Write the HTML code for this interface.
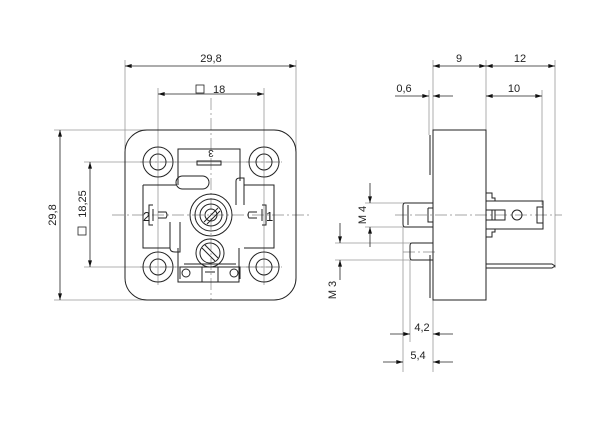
<!DOCTYPE html>
<html><head><meta charset="utf-8"><style>
html,body{margin:0;padding:0;background:#fff}
svg{display:block}
text{font-family:"Liberation Sans",sans-serif;font-size:11px;fill:#222}
</style></head><body>
<svg width="600" height="424" viewBox="0 0 600 424" xmlns="http://www.w3.org/2000/svg">
<defs>
<marker id="a" viewBox="0 0 10 6" refX="10" refY="3" markerWidth="10" markerHeight="4" orient="auto-start-reverse" markerUnits="userSpaceOnUse"><path d="M0,0 L10,3 L0,6z" fill="#111"/></marker>
</defs>
<g stroke="#999" stroke-width="0.8" fill="none">
<line x1="125" y1="60" x2="125" y2="150"/><line x1="296" y1="60" x2="296" y2="150"/>
<line x1="158" y1="88" x2="158" y2="285"/><line x1="264" y1="88" x2="264" y2="285"/>
<line x1="54" y1="130" x2="200" y2="130"/><line x1="54" y1="300" x2="200" y2="300"/>
<line x1="84" y1="162" x2="280" y2="162"/><line x1="84" y1="267" x2="280" y2="267"/>
<line x1="433" y1="60" x2="433" y2="372"/><line x1="486" y1="60" x2="486" y2="195"/>
<line x1="555" y1="60" x2="555" y2="268"/><line x1="542" y1="90" x2="542" y2="205"/>
<line x1="429" y1="90" x2="429" y2="135"/>
<line x1="365" y1="203" x2="433" y2="203"/><line x1="365" y1="227" x2="433" y2="227"/>
<line x1="335" y1="243" x2="433" y2="243"/><line x1="335" y1="260" x2="433" y2="260"/>
<line x1="403" y1="227" x2="403" y2="372"/><line x1="410" y1="260" x2="410" y2="342"/>
</g>
<g stroke="#888" stroke-width="0.7" stroke-dasharray="12,3,2,3" fill="none">
<line x1="112" y1="215" x2="312" y2="215"/><line x1="211" y1="98" x2="211" y2="300"/>
<line x1="140" y1="162" x2="176" y2="162"/><line x1="246" y1="162" x2="282" y2="162"/>
<line x1="140" y1="267" x2="176" y2="267"/><line x1="246" y1="267" x2="282" y2="267"/>
<line x1="395" y1="215" x2="562" y2="215"/><line x1="403" y1="252" x2="438" y2="252"/>
</g>
<g stroke="#222" stroke-width="0.8" fill="none" marker-start="url(#a)" marker-end="url(#a)">
<line x1="125" y1="66" x2="296" y2="66"/>
<line x1="158" y1="94" x2="264" y2="94"/>
<line x1="60" y1="130" x2="60" y2="300"/>
<line x1="90" y1="162" x2="90" y2="267"/>
<line x1="433" y1="66" x2="486" y2="66"/>
<line x1="486" y1="66" x2="555" y2="66"/>
<line x1="486" y1="96" x2="542" y2="96"/>
</g>
<g stroke="#222" stroke-width="0.8" fill="none">
<line x1="395" y1="96" x2="429" y2="96" marker-end="url(#a)"/>
<line x1="453" y1="96" x2="433" y2="96" marker-end="url(#a)"/>
<line x1="370" y1="183" x2="370" y2="203" marker-end="url(#a)"/>
<line x1="370" y1="247" x2="370" y2="227" marker-end="url(#a)"/>
<line x1="340" y1="223" x2="340" y2="243" marker-end="url(#a)"/>
<line x1="340" y1="280" x2="340" y2="260" marker-end="url(#a)"/>
<line x1="390" y1="334" x2="410" y2="334" marker-end="url(#a)"/>
<line x1="453" y1="334" x2="433" y2="334" marker-end="url(#a)"/>
<line x1="383" y1="362" x2="403" y2="362" marker-end="url(#a)"/>
<line x1="453" y1="362" x2="433" y2="362" marker-end="url(#a)"/>
</g>
<text x="211" y="62" text-anchor="middle">29,8</text>
<rect x="196" y="85" width="8" height="8" fill="none" stroke="#222" stroke-width="0.8"/>
<text x="213" y="93">18</text>
<text transform="translate(56,215) rotate(-90)" text-anchor="middle">29,8</text>
<text transform="translate(86,204) rotate(-90)" text-anchor="middle">18,25</text>
<rect x="78" y="227" width="8" height="8" fill="none" stroke="#222" stroke-width="0.8"/>
<text x="459" y="62" text-anchor="middle">9</text>
<text x="520" y="62" text-anchor="middle">12</text>
<text x="404" y="92" text-anchor="middle">0,6</text>
<text x="514" y="92" text-anchor="middle">10</text>
<text transform="translate(366,215) rotate(-90)" text-anchor="middle">M 4</text>
<text transform="translate(336,290) rotate(-90)" text-anchor="middle">M 3</text>
<text x="422" y="331" text-anchor="middle">4,2</text>
<text x="418" y="359" text-anchor="middle">5,4</text>
<g stroke="#222" stroke-width="1" fill="none">
<rect x="125" y="130" width="171" height="170" rx="22"/>
<circle cx="158" cy="162" r="15"/><circle cx="158" cy="162" r="8"/>
<circle cx="264" cy="162" r="15"/><circle cx="264" cy="162" r="8"/>
<circle cx="158" cy="267" r="15"/><circle cx="158" cy="267" r="8"/>
<circle cx="264" cy="267" r="15"/><circle cx="264" cy="267" r="8"/>
<path d="M178,185 V149 H240 V181 M143,185 H176 M244,185 H274 V248 H244 M143,185 V248 H170 M178,248 V282 H239 V248"/>
<rect x="176" y="176" width="33" height="13" rx="6.5"/>
<path d="M236,181 Q236,178 240,178 H244 V205 M236,181 V205"/>
<path d="M170,222 V248 Q170,252 175,252 H180 V222"/>
<rect x="197" y="161" width="24" height="4"/>
<circle cx="211" cy="215" r="21"/><circle cx="211" cy="215" r="16"/><circle cx="211" cy="215" r="11"/><circle cx="211" cy="215" r="6"/>
<line x1="204" y1="222" x2="218" y2="208"/><line x1="207" y1="224" x2="220" y2="211"/>
<circle cx="210" cy="253" r="14"/><circle cx="210" cy="253" r="10"/>
<line x1="202" y1="248" x2="215" y2="261"/><line x1="205" y1="245" x2="218" y2="258"/>
<path d="M180,279 V267 H240 V279 M184,264 H236 M202,267 V282 M218,267 V282 M205,272 H215"/>
<circle cx="186" cy="273" r="4"/><circle cx="234" cy="273" r="4"/>
<path d="M153,205 H149 V225 H153 M153,209 V221 M158,212 H166 Q168,215 166,218 H158"/>
<path d="M262,205 H266 V225 H262 M262,209 V221 M257,212 H249 Q247,215 249,218 H257"/>
</g>
<text x="211" y="158" text-anchor="middle" style="font-size:10px" transform="rotate(180,211,154)">3</text>
<text x="143" y="221" style="font-size:13px">2</text>
<text x="266" y="221" style="font-size:13px">1</text>
<g stroke="#222" stroke-width="1" fill="none">
<path d="M433,130 H486 V300 H433 V133 Z"/>
<path d="M430,135 V175 M430,255 V298"/>
<path d="M433,203 H405 Q403,203 403,206 V224 Q403,227 405,227 H433"/>
<path d="M408,205 V225"/>
<path d="M428,208 V222 H433 M428,208 H433"/>
<path d="M433,243 H412 Q410,243 410,246 V257 Q410,260 412,260 H433"/>
<path d="M486,201 H543 V229 H486"/>
<path d="M486,193 H492 V198 H495 V201 M486,237 H492 V232 H495 V229"/>
<path d="M486,210 H505 V220 H486 M492,210 V220 M495,210 V220"/>
<circle cx="517" cy="215" r="5"/>
<path d="M537,207 H543 V223 H537 Z"/>
<path d="M486,264 H552 L555,266 L552,268 H486"/>
</g>
</svg>
</body></html>
